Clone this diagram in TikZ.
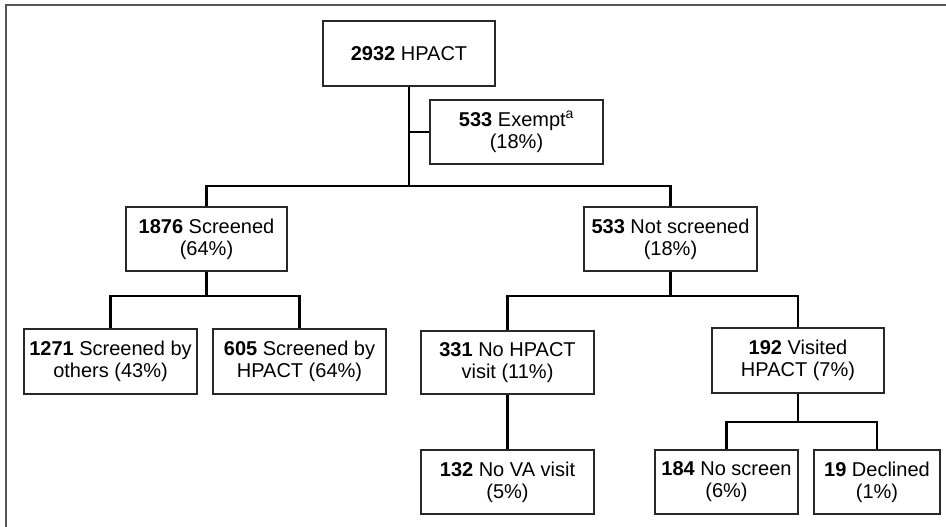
\documentclass[tikz,border=0pt]{standalone}
\usepackage{fontspec}
\setmainfont{Liberation Sans}
\usetikzlibrary{positioning, calc}
\definecolor{frm}{RGB}{85,85,85}
\definecolor{bdr}{RGB}{40,40,40}

\begin{document}
\begin{tikzpicture}[
    x=1pt, y=-1pt,
    box/.style = {draw=bdr, line width=1.2pt, fill=white,
                  inner sep=0pt, align=center,
                  font=\fontsize{20}{22}\selectfont},
    conn/.style = {line width=2.5pt, black},
  ]
    \useasboundingbox (0,0) rectangle (946,527);
    % frame (top and left edges only)
    \draw[frm, line width=2pt] (6,527) -- (6,5) -- (946,5);

    \node[box, minimum width=172pt, minimum height=65pt] (hpact) at (409,53.5)
      {\textbf{2932} HPACT};
    \node[box, minimum width=173pt, minimum height=64pt] (exempt) at (516.5,132)
      {\textbf{533} Exempt\textsuperscript{a}\\(18\%)};
    \node[box, minimum width=161pt, minimum height=64pt] (scr) at (206.5,239)
      {\textbf{1876} Screened\\(64\%)};
    \node[box, minimum width=173pt, minimum height=64pt] (notscr) at (670.5,239)
      {\textbf{533} Not screened\\(18\%)};
    \node[box, minimum width=173pt, minimum height=65pt] (others) at (110.5,361.5)
      {\textbf{1271} Screened by\\others (43\%)};
    \node[box, minimum width=173pt, minimum height=65pt] (byhpact) at (299.5,361.5)
      {\textbf{605} Screened by\\HPACT (64\%)};
    \node[box, minimum width=173pt, minimum height=63pt] (novisit) at (507.5,362.5)
      {\textbf{331} No HPACT\\visit (11\%)};
    \node[box, minimum width=172pt, minimum height=65pt] (visited) at (798,360.5)
      {\textbf{192} Visited\\HPACT (7\%)};
    \node[box, minimum width=173pt, minimum height=64pt] (nova) at (507.5,482)
      {\textbf{132} No VA visit\\(5\%)};
    \node[box, minimum width=143pt, minimum height=64pt] (noscreen) at (726.5,482)
      {\textbf{184} No screen\\(6\%)};
    \node[box, minimum width=126pt, minimum height=64pt] (declined) at (877,482)
      {\textbf{19} Declined\\(1\%)};

    % branch levels
    \coordinate (lv1) at (0,186);
    \coordinate (lv2) at (0,296);
    \coordinate (lv3) at (0,422);

    % top split
    \draw[conn] (hpact.south) -- (hpact.south |- lv1);
    \draw[conn] (hpact.south |- exempt.west) -- (exempt.west);
    \draw[conn] (scr.north) -- (scr.north |- lv1) -- (notscr.north |- lv1) -- (notscr.north);
    % screened split
    \draw[conn] (scr.south) -- (scr.south |- lv2);
    \draw[conn] (others.north) -- (others.north |- lv2) -- (byhpact.north |- lv2) -- (byhpact.north);
    % not screened split
    \draw[conn] (notscr.south) -- (notscr.south |- lv2);
    \draw[conn] (novisit.north) -- (novisit.north |- lv2) -- (visited.north |- lv2) -- (visited.north);
    \draw[conn] (novisit.south) -- (nova.north);
    % visited split
    \draw[conn] (visited.south) -- (visited.south |- lv3);
    \draw[conn] (noscreen.north) -- (noscreen.north |- lv3) -- (declined.north |- lv3) -- (declined.north);
\end{tikzpicture}
\end{document}
